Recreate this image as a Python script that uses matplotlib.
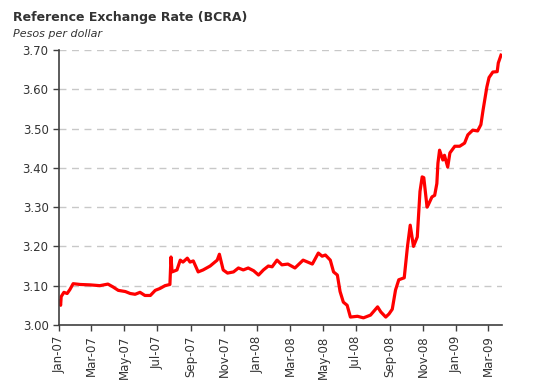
import pandas as pd
import matplotlib
matplotlib.use("Agg")
import matplotlib.pyplot as plt
import matplotlib.dates as mdates

# reference rate (pesos per dollar)
dates = [
    "2007-01-02", "2007-01-04", "2007-01-05", "2007-01-10", "2007-01-16", "2007-01-21",
    "2007-01-27", "2007-02-09", "2007-02-27", "2007-03-17", "2007-04-01", "2007-04-10",
    "2007-04-20", "2007-05-03", "2007-05-12", "2007-05-21", "2007-05-30", "2007-06-08",
    "2007-06-18", "2007-06-27", "2007-07-06", "2007-07-15", "2007-07-24", "2007-07-26",
    "2007-07-28", "2007-08-06", "2007-08-12", "2007-08-17", "2007-08-25", "2007-08-30",
    "2007-09-05", "2007-09-14", "2007-09-23", "2007-10-06", "2007-10-19", "2007-10-23",
    "2007-10-30", "2007-11-07", "2007-11-18", "2007-11-27", "2007-12-06", "2007-12-15",
    "2007-12-25", "2008-01-03", "2008-01-12", "2008-01-21", "2008-01-28", "2008-02-06",
    "2008-02-15", "2008-02-26", "2008-03-10", "2008-03-25", "2008-04-11", "2008-04-22",
    "2008-04-29", "2008-05-05", "2008-05-14", "2008-05-20", "2008-05-27", "2008-06-01",
    "2008-06-07", "2008-06-14", "2008-06-20", "2008-07-03", "2008-07-14", "2008-07-27",
    "2008-08-09", "2008-08-15", "2008-08-24", "2008-08-30", "2008-09-05", "2008-09-11",
    "2008-09-17", "2008-09-27", "2008-10-03", "2008-10-08", "2008-10-14", "2008-10-21",
    "2008-10-26", "2008-10-30", "2008-11-02", "2008-11-08", "2008-11-10", "2008-11-17",
    "2008-11-22", "2008-11-26", "2008-11-28", "2008-12-01", "2008-12-07", "2008-12-10",
    "2008-12-16", "2008-12-20", "2008-12-29", "2009-01-07", "2009-01-16", "2009-01-22",
    "2009-01-31", "2009-02-09", "2009-02-15", "2009-02-19", "2009-02-26", "2009-03-02",
    "2009-03-09", "2009-03-17", "2009-03-19", "2009-03-24",
]
rates = [
    3.060, 3.050, 3.072, 3.083, 3.080, 3.090,
    3.105, 3.103, 3.102, 3.100, 3.104, 3.097,
    3.088, 3.085, 3.080, 3.078, 3.083, 3.075,
    3.075, 3.088, 3.093, 3.100, 3.103, 3.173,
    3.135, 3.140, 3.165, 3.160, 3.170, 3.160,
    3.163, 3.135, 3.140, 3.150, 3.165, 3.180,
    3.140, 3.132, 3.135, 3.145, 3.140, 3.145,
    3.138, 3.127, 3.140, 3.150, 3.148, 3.165,
    3.153, 3.155, 3.145, 3.165, 3.155, 3.183,
    3.175, 3.178, 3.165, 3.135, 3.127, 3.085,
    3.058, 3.050, 3.020, 3.022, 3.018, 3.025,
    3.046, 3.033, 3.020, 3.028, 3.040, 3.089,
    3.115, 3.120, 3.200, 3.254, 3.200, 3.224,
    3.340, 3.377, 3.375, 3.300, 3.305, 3.326,
    3.330, 3.360, 3.412, 3.445, 3.420, 3.432,
    3.402, 3.438, 3.455, 3.455, 3.463, 3.484,
    3.496, 3.494, 3.510, 3.547, 3.606, 3.630,
    3.644, 3.645, 3.667, 3.687,
]
y_ticks = [3.00, 3.10, 3.20, 3.30, 3.40, 3.50, 3.60, 3.70]

x = pd.to_datetime(dates)
text_color = "#333333"

fig = plt.figure(figsize=(5.33, 3.91), dpi=100)
ax = fig.add_axes([0.1107, 0.169, 0.8313, 0.703])

ax.plot(x, rates, color="#ff0000", linewidth=2.3, solid_joinstyle="round")

ax.set_ylim(3.0, 3.7)
ax.set_yticks(y_ticks)
ax.set_yticklabels([f"{v:.2f}" for v in y_ticks])
ax.set_xlim(pd.Timestamp("2007-01-01"), pd.Timestamp("2009-03-26"))
ax.xaxis.set_major_locator(mdates.MonthLocator(bymonth=[1, 3, 5, 7, 9, 11]))
ax.xaxis.set_major_formatter(mdates.DateFormatter("%b-%y"))
plt.setp(ax.get_xticklabels(), rotation=90)

ax.grid(axis="y", linestyle=(0, (5, 4)), color="#c8c8c8", linewidth=1)
ax.set_axisbelow(True)
for side in ["top", "right"]:
    ax.spines[side].set_visible(False)
for side in ["left", "bottom"]:
    ax.spines[side].set_color("#404040")
    ax.spines[side].set_linewidth(1.2)
ax.tick_params(axis="both", colors="#404040", labelcolor=text_color,
               labelsize=8.5, length=4, width=1)

fig.text(0.024, 0.947, "Reference Exchange Rate (BCRA)", fontsize=9,
         fontweight="bold", color=text_color, va="baseline")
fig.text(0.024, 0.905, "Pesos per dollar", fontsize=8, style="italic",
         color=text_color, va="baseline")

fig.savefig("out.png", dpi=100)
